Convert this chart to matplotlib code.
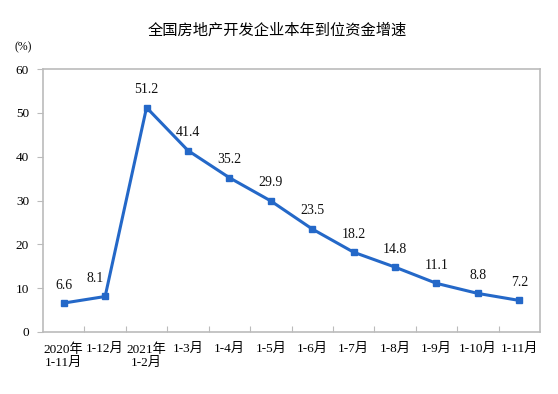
import matplotlib
matplotlib.use("Agg")
import matplotlib.pyplot as plt

categories = ["2020年\n1-11月", "1-12月", "2021年\n1-2月", "1-3月", "1-4月", "1-5月",
              "1-6月", "1-7月", "1-8月", "1-9月", "1-10月", "1-11月"]
values = [6.6, 8.1, 51.2, 41.4, 35.2, 29.9, 23.5, 18.2, 14.8, 11.1, 8.8, 7.2]
yticks = [0, 10, 20, 30, 40, 50, 60]
title = "全国房地产开发企业本年到位资金增速"

fam = ["Liberation Serif", "Noto Sans CJK SC", "DejaVu Sans"]
plt.rcParams["font.family"] = fam

fig = plt.figure(figsize=(5.58, 3.94), dpi=100)
ax = fig.add_axes([43/558, 1-332/394, (540-43)/558, (332-69)/394])

x = list(range(len(values)))
color = "#2468C8"
ax.plot(x, values, color=color, lw=2.2, marker="s", ms=4.5, mfc=color, mec=color, zorder=3)
for i, (xi, v) in enumerate(zip(x, values)):
    dx = -7 if i == 1 else 0
    ax.annotate(f"{v:.1f}", (xi, v), xytext=(dx, 13), textcoords="offset points",
                ha="center", va="center", fontsize=10, color="#111111")

ax.set_xlim(-0.5, len(values) - 0.5)
ax.set_ylim(0, 60)
ax.set_yticks(yticks)
ax.set_yticklabels([str(t) for t in yticks], fontsize=9.5)
ax.set_xticks([i - 0.5 for i in range(1, len(values))], minor=False)
ax.set_xticklabels([])
ax.set_xticks(x, minor=True)
ax.set_xticklabels(categories, minor=True, fontsize=9.5, linespacing=1.1)
ax.tick_params(axis="x", which="minor", length=0, pad=8)
ax.tick_params(axis="x", which="major", length=4, color="#BBBBBB", direction="in")
ax.tick_params(axis="y", length=4, color="#BBBBBB", direction="out", pad=6)
for s in ax.spines.values():
    s.set_color("#BBBBBB")
    s.set_linewidth(1.2)

fig.text(277/558, 1-30/394, title, ha="center", va="center", fontsize=11,
         family=["Noto Sans CJK SC"])
fig.text(23/558, 1-47/394, "(%)", ha="center", va="center", fontsize=8.5)

fig.savefig("out.png", dpi=100)
